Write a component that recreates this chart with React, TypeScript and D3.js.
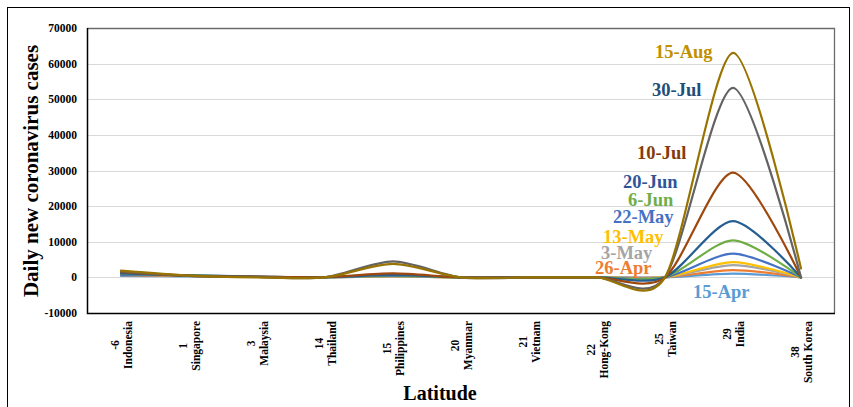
import React, { useEffect, useRef } from "react";
import * as d3 from "d3";

// ---------- data ----------
const latitudes = ["-6", "1", "3", "14", "15", "20", "21", "22", "25", "29", "38"];
const countries = [
  "Indonesia", "Singapore", "Malaysia", "Thailand", "Philippines", "Myanmar",
  "Vietnam", "Hong-Kong", "Taiwan", "India", "South Korea",
];
const yTicks = [-10000, 0, 10000, 20000, 30000, 40000, 50000, 60000, 70000];

const seriesNames = ["15-Apr", "26-Apr", "3-May", "13-May", "22-May", "6-Jun", "20-Jun", "10-Jul", "30-Jul", "15-Aug"];
const apr15 = [400, 300, 100, 50, 200, 0, 0, 0, 0, 1050, 0];
const apr26 = [600, 400, 100, 50, 250, 0, 0, 0, 0, 2050, 0];
const may3 = [800, 500, 100, 50, 300, 0, 0, 0, 0, 3450, 0];
const may13 = [900, 500, 100, 50, 350, 0, 0, 0, 0, 4300, 0];
const may22 = [700, 600, 200, 50, 400, 0, 0, 0, 0, 6650, 0];
const jun6 = [1000, 600, 100, 50, 650, 0, 0, 0, 0, 10400, 0];
const jun20 = [1100, 500, 200, 50, 700, 0, 0, 0, 0, 15800, 0];
const jul10 = [1500, 400, 200, 50, 1100, 0, 0, 0, 0, 29400, 0];
const jul30 = [1700, 400, 100, 0, 4500, 0, 0, 0, 0, 53200, 0];
const aug15 = [1900, 500, 0, 0, 3800, 0, 0, 0, 0, 63000, 2500];
const seriesValues = [apr15, apr26, may3, may13, may22, jun6, jun20, jul10, jul30, aug15];

// ---------- style ----------
const lineColors = ["#5B9BD5", "#ED7D31", "#A5A5A5", "#FFC000", "#4472C4", "#70AD47", "#255E91", "#9E480E", "#636363", "#997300"];
const labelColors = ["#5B9BD5", "#ED7D31", "#A5A5A5", "#FFC000", "#4472C4", "#70AD47", "#2F5597", "#843C0C", "#1F4E79", "#BF9000"];
// label anchor positions (left x, baseline y) in pixels
const labelPos: [number, number][] = [
  [693, 298], [595, 274], [601, 259], [603, 243], [613, 223],
  [628, 206], [623, 188], [637, 159], [652, 96], [655, 58],
];

const W = 853, H = 407;
const M = { left: 87, right: 835, top: 28, bottom: 313 };
const FONT = "'Liberation Serif', 'Times New Roman', serif";

export default function App() {
  const ref = useRef<SVGSVGElement | null>(null);

  useEffect(() => {
    const svg = d3.select(ref.current);
    svg.selectAll("*").remove();

    const x = d3.scaleBand<number>().domain(d3.range(countries.length)).range([M.left, M.right]).padding(0);
    const y = d3.scaleLinear().domain([-10000, 70000]).range([M.bottom, M.top]);
    const cx = (i: number) => (x(i) as number) + x.bandwidth() / 2;

    svg.append("rect").attr("x", 0).attr("y", 0).attr("width", W).attr("height", H).attr("fill", "#fff");
    // outer frame
    svg.append("rect").attr("x", 7.5).attr("y", 7.5).attr("width", 842).attr("height", 420)
      .attr("fill", "none").attr("stroke", "#000").attr("stroke-width", 1);

    // gridlines
    svg.append("g").selectAll("line").data(yTicks).join("line")
      .attr("x1", M.left).attr("x2", M.right)
      .attr("y1", (d) => Math.round(y(d)) + 0.5).attr("y2", (d) => Math.round(y(d)) + 0.5)
      .attr("stroke", "#D9D9D9").attr("stroke-width", 1.2);

    // plot frame (top / right)
    svg.append("path")
      .attr("d", `M${M.left},${M.top + 0.5}H${M.right - 0.5}V${M.bottom}`)
      .attr("fill", "none").attr("stroke", "#6b6b6b").attr("stroke-width", 1.3);

    // y tick labels
    svg.append("g").selectAll("text").data(yTicks).join("text")
      .attr("x", 77).attr("y", (d) => y(d)).attr("dy", "0.35em")
      .attr("text-anchor", "end").attr("font-family", FONT).attr("font-weight", "bold")
      .attr("font-size", 11.5).attr("fill", "#000")
      .text((d) => String(d));

    // lines
    const line = d3.line<number>()
      .x((_, i) => cx(i)).y((d) => y(d))
      .curve(d3.curveCardinal.tension(0.2));
    svg.append("g").selectAll("path").data(seriesValues).join("path")
      .attr("d", (d) => line(d) as string)
      .attr("fill", "none").attr("stroke", (_, i) => lineColors[i]).attr("stroke-width", 2.2)
      .attr("stroke-linejoin", "round").attr("stroke-linecap", "round");

    // axes lines (left, bottom)
    svg.append("path")
      .attr("d", `M${M.left + 0.5},${M.top}V${M.bottom + 0.5}H${M.right}`)
      .attr("fill", "none").attr("stroke", "#000").attr("stroke-width", 1.5);

    // x labels
    const xl = svg.append("g");
    countries.forEach((c, i) => {
      const t2 = xl.append("text").attr("font-family", FONT).attr("font-weight", "bold")
        .attr("font-size", 11.5).attr("text-anchor", "middle").attr("fill", "#000").text(c);
      const len = (t2.node() as SVGTextElement).getComputedTextLength();
      const cy = 321 + len / 2;
      t2.attr("transform", `translate(${cx(i) + 10.5},${cy}) rotate(-90)`);
      xl.append("text").attr("font-family", FONT).attr("font-weight", "bold")
        .attr("font-size", 11.5).attr("text-anchor", "middle").attr("fill", "#000")
        .attr("transform", `translate(${cx(i) - 2.5},${cy}) rotate(-90)`)
        .text(latitudes[i]);
    });

    // axis titles
    svg.append("text").attr("font-family", FONT).attr("font-weight", "bold").attr("font-size", 21)
      .attr("text-anchor", "middle").attr("transform", `translate(38,171) rotate(-90)`)
      .text("Daily new coronavirus cases");
    svg.append("text").attr("font-family", FONT).attr("font-weight", "bold").attr("font-size", 20)
      .attr("text-anchor", "middle").attr("x", 440).attr("y", 400)
      .text("Latitude");

    // series labels
    svg.append("g").selectAll("text").data(seriesNames).join("text")
      .attr("x", (_, i) => labelPos[i][0]).attr("y", (_, i) => labelPos[i][1])
      .attr("font-family", FONT).attr("font-weight", "bold").attr("font-size", 18.5)
      .attr("fill", (_, i) => labelColors[i])
      .text((d) => d);
  }, []);

  return (
    <svg ref={ref} width={W} height={H}
      style={{ position: "absolute", left: 0, top: 0, display: "block" }} />
  );
}
